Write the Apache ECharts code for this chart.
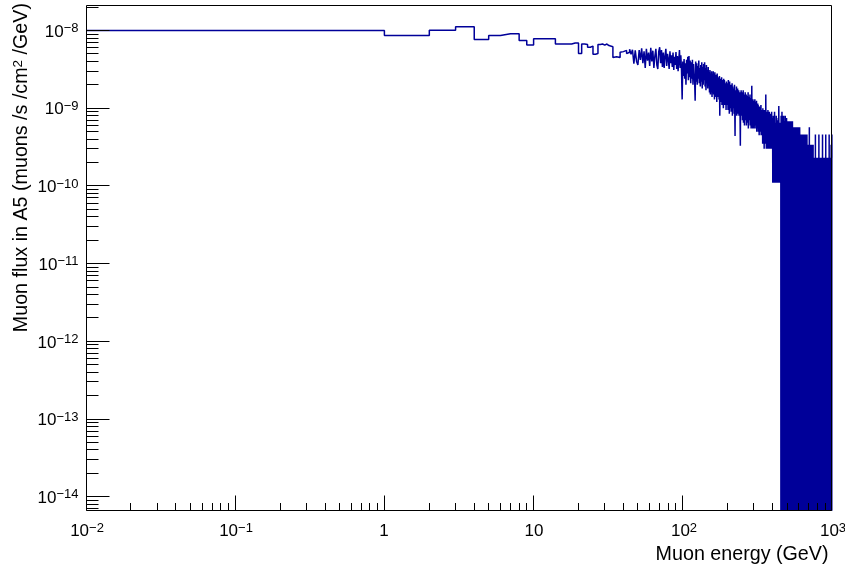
<!DOCTYPE html>
<html>
<head>
<meta charset="utf-8">
<script src="https://cdn.jsdelivr.net/npm/echarts@6/dist/echarts.min.js"></script>
<style>html,body{margin:0;padding:0;background:#fff}#c{width:845px;height:571px}</style>
</head>
<body>
<div id="c"></div>
<script>
// Histogram binning (GeV): 1000 bins of 1 GeV from 0 to 1000
const energyMinGeV = 0;
const binWidthGeV = 1;
// Flux values per bin, in units of 1e-11 muons/s/cm^2/GeV
const fluxUnit = 1e-11;
const muonFlux = [
1000, 860, 1010, 1120, 765, 860, 910, 910, 745, 650,
785, 785, 785, 785, 670, 670, 670, 670, 690, 690,
505, 670, 660, 610, 630, 495, 505, 660, 670, 650,
670, 640, 660, 620, 450, 460, 440, 450, 525, 535,
515, 555, 505, 525, 575, 495, 565, 375, 555, 400,
360, 560, 420, 590, 380, 540, 330, 580, 410, 520,
350, 600, 400, 550, 330, 470, 580, 360, 320, 540,
610, 380, 560, 340, 520, 330, 470, 580, 350, 500,
430, 320, 540, 380, 480, 340, 520, 310, 460, 360,
530, 320, 470, 300, 420, 560, 330, 480, 310, 130,
400, 260, 430, 240, 380, 200, 420, 280, 460, 230,
470, 250, 410, 210, 390, 240, 420, 200, 370, 260,
230, 125, 400, 220, 380, 200, 350, 240, 410, 210,
330, 190, 360, 220, 390, 180, 340, 200, 370, 230,
390, 190, 330, 170, 360, 210, 310, 180, 340, 200,
290, 160, 310, 150, 280, 190, 300, 140, 270, 170,
300, 150, 260, 130, 290, 160, 250, 140, 270, 120,
280, 140, 250, 160, 230, 130, 260, 80, 240, 130,
220, 120, 250, 110, 230, 140, 210, 100, 240, 120,
230, 110, 210, 130, 200, 95, 220, 110, 190, 120,
210, 95, 230, 110, 190, 85, 220, 100, 180, 120,
200, 90, 170, 110, 210, 80, 190, 100, 160, 120,
180, 85, 200, 95, 44, 170, 90, 150, 110, 190,
80, 160, 100, 180, 85, 140, 110, 170, 80, 150,
90, 160, 75, 33, 140, 85, 170, 95, 130, 80,
160, 70, 140, 85, 170, 65, 130, 90, 150, 60,
140, 75, 160, 70, 120, 85, 150, 60, 130, 80,
145, 65, 120, 90, 160, 55, 125, 75, 140, 70,
115, 80, 150, 60, 130, 70, 110, 55, 135, 75,
194, 65, 120, 80, 55, 130, 70, 115, 60, 125,
120, 55, 110, 70, 130, 60, 100, 75, 120, 55,
105, 65, 125, 50, 110, 70, 95, 55, 115, 60,
110, 50, 100, 60, 95, 45, 105, 55, 90, 50,
100, 50, 85, 60, 110, 45, 90, 55, 80, 48,
95, 50, 85, 35, 100, 45, 80, 55, 90, 40,
85, 30, 95, 50, 75, 35, 90, 45, 80, 35,
150, 40, 85, 30, 75, 50, 90, 35, 70, 45,
80, 30, 95, 40, 70, 35, 85, 45, 75, 30,
90, 35, 70, 50, 80, 30, 75, 40, 85, 30,
80, 35, 70, 45, 90, 30, 75, 40, 65, 35,
45, 11, 60, 35, 80, 23, 50, 35, 11, 70,
45, 23, 90, 34, 11, 55, 40, 65, 23, 45,
11, 60, 35, 80, 45, 23, 55, 11, 70, 34,
50, 23, 45, 65, 11, 40, 75, 34, 23, 55,
107, 34, 11, 45, 60, 23, 50, 11, 35, 65,
23, 45, 11, 55, 34, 0, 80, 23, 45, 11,
34, 0, 90, 23, 11, 57, 0, 45, 80, 34,
11, 68, 0, 34, 80, 0, 34, 57, 23, 34,
68, 23, 45, 11, 0, 34, 80, 23, 0, 45,
0, 68, 23, 57, 0, 11, 75, 23, 0, 34,
23, 0, 68, 11, 34, 0, 23, 57, 11, 0,
34, 68, 0, 45, 11, 34, 0, 23, 68, 0,
11, 57, 23, 0, 68, 11, 0, 34, 23, 68,
0, 45, 23, 68, 0, 11, 57, 0, 23, 68,
11, 0, 34, 68, 23, 45, 11, 57, 34, 23,
57, 11, 0, 23, 45, 0, 57, 34, 0, 23,
45, 0, 57, 11, 34, 0, 57, 11, 0, 23,
34, 0, 57, 45, 23, 0, 34, 57, 0, 23,
0, 57, 23, 0, 46, 11, 0, 57, 34, 0,
11, 23, 0, 57, 46, 0, 11, 57, 0, 34,
0, 57, 11, 0, 46, 23, 0, 57, 34, 0,
23, 0, 46, 34, 0, 23, 46, 0, 11, 46,
0, 34, 46, 0, 23, 0, 11, 46, 0, 23,
46, 0, 34, 23, 0, 46, 0, 23, 34, 0,
23, 46, 0, 46, 0, 23, 11, 0, 46, 11,
0, 23, 0, 46, 34, 0, 23, 46, 0, 34,
11, 0, 46, 34, 0, 11, 0, 46, 11, 0,
34, 46, 0, 23, 0, 46, 11, 0, 23, 46,
11, 34, 0, 23, 11, 0, 0, 34, 34, 0,
23, 0, 34, 11, 0, 23, 34, 0, 23, 0,
11, 0, 34, 0, 23, 57, 0, 34, 23, 0,
23, 34, 0, 11, 0, 34, 23, 0, 11, 0,
34, 0, 11, 23, 0, 34, 0, 11, 23, 0,
34, 0, 23, 11, 0, 34, 0, 11, 23, 0,
0, 23, 34, 0, 11, 23, 0, 34, 0, 23,
11, 0, 23, 0, 11, 23, 0, 23, 11, 0,
23, 11, 0, 23, 0, 11, 23, 0, 11, 0,
0, 23, 11, 0, 46, 0, 11, 0, 23, 11,
0, 11, 23, 0, 11, 23, 0, 23, 0, 11,
23, 0, 11, 23, 0, 11, 0, 23, 11, 0,
23, 0, 11, 0, 23, 11, 0, 23, 0, 11,
0, 23, 11, 0, 23, 0, 11, 46, 0, 11,
23, 0, 11, 0, 23, 11, 0, 23, 0, 11,
0, 23, 0, 11, 0, 23, 11, 0, 23, 0,
11, 0, 23, 11, 0, 23, 0, 11, 0, 23,
0, 11, 23, 0, 11, 0, 23, 0, 23, 11,
0, 23, 0, 11, 46, 0, 11, 23, 0, 11,
23, 0, 11, 0, 23, 23, 0, 11, 0, 23,
0, 23, 11, 0, 23, 0, 11, 23, 0, 11,
23, 0, 11, 23, 0, 11, 0, 23, 11, 0,
11, 0, 23, 0, 11, 23, 0, 11, 46, 0,
23, 11, 0, 23, 0, 11, 23, 0, 11, 0,
0, 23, 11, 0, 23, 0, 11, 23, 0, 11,
23, 0, 11, 0, 23, 11, 0, 23, 0, 11,
0, 23, 0, 11, 23, 0, 23, 11, 0, 23,
11, 0, 23, 0, 11, 23, 0, 46, 11, 0,
23, 0, 11, 23, 0, 11, 23, 0, 11, 0,
0, 23, 11, 0, 23, 0, 11, 23, 0, 11,
23, 0, 11, 0, 23, 11, 0, 34, 0, 23,
11, 0, 23, 11, 0, 23, 0, 11, 46, 23
];
// Axes
const xRange = [0.01, 1000];
const yRange = [6.76e-15, 2.13e-8];
const xTickValues = [0.01, 0.1, 1, 10, 100, 1000];
const xTickBase = ['10', '10', '1', '10', '10', '10'];
const xTickExp = ['\u22122', '\u22121', '', '', '2', '3'];
const yTickValues = [1e-8, 1e-9, 1e-10, 1e-11, 1e-12, 1e-13, 1e-14];
const yTickBase = ['10', '10', '10', '10', '10', '10', '10'];
const yTickExp = ['\u22128', '\u22129', '\u221210', '\u221211', '\u221212', '\u221213', '\u221214'];
const xTitle = 'Muon energy (GeV)';
const yTitleParts = ['Muon flux in A5 (muons /s /cm', '2', ' /GeV)'];

const FONT = '"Liberation Sans", Arial, Helvetica, sans-serif';
const ZERO_FLOOR = 1e-20; // empty bins fall below the frame, like ROOT

const histPoints = [];
for (let i = 0; i < muonFlux.length; i++) {
  const low = Math.max(energyMinGeV + i * binWidthGeV, xRange[0]);
  const v = muonFlux[i] > 0 ? muonFlux[i] * fluxUnit : ZERO_FLOOR;
  histPoints.push([low, v]);
}
{
  const last = muonFlux[muonFlux.length - 1];
  histPoints.push([energyMinGeV + muonFlux.length * binWidthGeV, last > 0 ? last * fluxUnit : ZERO_FLOOR]);
}

function drawAxes(params, api) {
  const el = [];
  const P = (x, y) => api.coord([x, y]);
  const crisp = v => Math.floor(v) + 0.5;
  const L = (x1, y1, x2, y2) => el.push({type: 'line', silent: true,
    shape: {x1: x1, y1: y1, x2: x2, y2: y2}, style: {stroke: '#000', lineWidth: 1}});
  const pLB = P(xRange[0], yRange[0]);
  const pRT = P(xRange[1], yRange[1]);
  const xl = crisp(pLB[0]), xr = crisp(pRT[0] - 0.01), yb = crisp(pLB[1]), yt = crisp(pRT[1]);
  // frame
  L(xl, yt, xr, yt); L(xl, yb, xr, yb); L(xl, yt, xl, yb); L(xr, yt, xr, yb);
  // x ticks
  for (let d = -2; d <= 3; d++) {
    for (let k = 1; k <= 9; k++) {
      const v = k * Math.pow(10, d);
      if (v > xRange[1] * 1.0001) break;
      const px = (v >= xRange[1] * 0.9999) ? xr : crisp(P(v, yRange[0])[0]);
      L(px, yb, px, yb - (k === 1 ? 15 : 7.5));
    }
  }
  // y ticks
  for (let d = -15; d <= -8; d++) {
    for (let k = 1; k <= 9; k++) {
      const v = k * Math.pow(10, d);
      if (v < yRange[0] || v > yRange[1]) continue;
      const py = crisp(P(xRange[0], v)[1]);
      L(xl, py, xl + (k === 1 ? 23 : 12), py);
    }
  }
  const rich = {
    b: {fontSize: 17, lineHeight: 20, fontFamily: FONT, fill: '#000'},
    s: {fontSize: 13, lineHeight: 13, fontFamily: FONT, fill: '#000', verticalAlign: 'top'}
  };
  for (let i = 0; i < xTickValues.length; i++) {
    const p = P(xTickValues[i], yRange[0]);
    const txt = xTickExp[i] ? '{b|' + xTickBase[i] + '}{s|' + xTickExp[i] + '}' : '{b|' + xTickBase[i] + '}';
    el.push({type: 'text', x: Math.round(p[0]) + (xTickExp[i] ? 1 : 0), y: yb + 11, silent: true,
      style: {legacy: false, text: txt, rich: rich, fill: '#000', align: 'center', verticalAlign: 'top'}});
  }
  for (let i = 0; i < yTickValues.length; i++) {
    const p = P(xRange[0], yTickValues[i]);
    const txt = '{b|' + yTickBase[i] + '}{s|' + yTickExp[i] + '}';
    el.push({type: 'text', x: xl - 8, y: p[1] + 1.5, silent: true,
      style: {legacy: false, text: txt, rich: rich, fill: '#000', align: 'right', verticalAlign: 'middle'}});
  }
  // axis titles
  el.push({type: 'text', x: xr - 3, y: 555, silent: true,
    style: {legacy: false, text: xTitle, fontSize: 19.7, fontFamily: FONT, fill: '#000', align: 'right', verticalAlign: 'middle'}});
  el.push({type: 'text', x: 22, y: 3, rotation: Math.PI / 2, silent: true,
    style: {legacy: false,
      text: '{t|' + yTitleParts[0] + '}{u|' + yTitleParts[1] + '}{t|' + yTitleParts[2] + '}',
      rich: {t: {fontSize: 19.7, lineHeight: 22, fontFamily: FONT, fill: '#000'},
             u: {fontSize: 13.5, lineHeight: 13, fontFamily: FONT, fill: '#000', verticalAlign: 'top'}},
      fill: '#000', align: 'right', verticalAlign: 'middle'}});
  return {type: 'group', children: el};
}

const chart = echarts.init(document.getElementById('c'), null, {renderer: 'canvas'});
const hiddenAxis = {
  axisLine: {show: false}, axisTick: {show: false}, axisLabel: {show: false},
  splitLine: {show: false}, minorTick: {show: false}, minorSplitLine: {show: false}
};
chart.setOption({
  animation: false,
  backgroundColor: '#ffffff',
  grid: {left: 86, right: 13, top: 5, bottom: 61, show: false},
  xAxis: Object.assign({type: 'log', logBase: 10, min: xRange[0], max: xRange[1]}, hiddenAxis),
  yAxis: Object.assign({type: 'log', logBase: 10, min: yRange[0], max: yRange[1]}, hiddenAxis),
  series: [
    {
      type: 'line',
      data: histPoints,
      step: 'end',
      showSymbol: false,
      symbol: 'none',
      clip: true,
      lineStyle: {color: '#000099', width: 1.5},
      z: 2,
      silent: true
    },
    {
      type: 'custom',
      coordinateSystem: 'cartesian2d',
      data: [[1, 1e-10]],
      clip: false,
      silent: true,
      z: 10,
      renderItem: drawAxes
    }
  ]
});
</script>
</body>
</html>
